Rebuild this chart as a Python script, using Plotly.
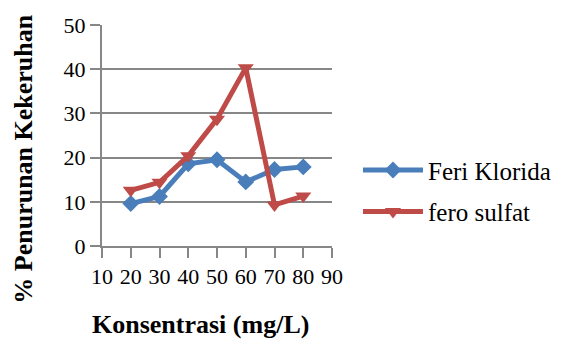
import plotly.graph_objects as go

konsentrasi = [20, 30, 40, 50, 60, 70, 80]
feri_klorida = [9.6, 11.2, 18.6, 19.5, 14.5, 17.3, 17.9]
fero_sulfat = [12.6, 14.4, 20.4, 28.7, 40.3, 9.3, 11.3]

x_ticks = [10, 20, 30, 40, 50, 60, 70, 80, 90]
y_ticks = [0, 10, 20, 30, 40, 50]

BLUE = "#4A7EBB"
RED = "#BE4B48"
GRID = "#878787"
FONT = "Liberation Serif"

fig = go.Figure()
fig.add_trace(go.Scatter(
    x=konsentrasi, y=feri_klorida, name="Feri Klorida", mode="lines+markers",
    line=dict(color=BLUE, width=5), legendgroup="a",
    marker=dict(symbol="diamond", size=13, color=BLUE),
))
fig.add_trace(go.Scatter(
    x=konsentrasi, y=fero_sulfat, name="fero sulfat", mode="lines+markers",
    line=dict(color=RED, width=5), legendgroup="b",
    marker=dict(symbol="triangle-down", size=14, color=RED),
))

fig.update_layout(
    width=576, height=340,
    margin=dict(l=102, r=244, t=25, b=94),
    paper_bgcolor="white", plot_bgcolor="white",
    font=dict(family=FONT, color="black", size=22),
    showlegend=True,
    legend=dict(
        x=1.113, y=0.25, xanchor="left", yanchor="middle",
        font=dict(family=FONT, size=25, color="black"),
        itemwidth=60, tracegroupgap=6, bgcolor="rgba(0,0,0,0)",
    ),
    xaxis=dict(
        range=[10, 90], tickvals=x_ticks, ticktext=[str(v) for v in x_ticks],
        showgrid=False, zeroline=False, showline=True, linecolor=GRID, linewidth=2,
        ticks="outside", ticklen=10, tickwidth=2, tickcolor=GRID,
        tickfont=dict(family=FONT, size=22, color="black"),
    ),
    yaxis=dict(
        range=[0, 50], tickvals=y_ticks, ticktext=[str(v) for v in y_ticks],
        showgrid=True, gridcolor=GRID, gridwidth=2, zeroline=False,
        showline=True, linecolor=GRID, linewidth=2,
        ticks="outside", ticklen=10, tickwidth=2, tickcolor=GRID,
        tickfont=dict(family=FONT, size=22, color="black"),
    ),
    annotations=[
        dict(text="<b>Konsentrasi (mg/L)</b>", xref="paper", yref="paper",
             x=0.43, y=-0.353, xanchor="center", yanchor="middle", showarrow=False,
             font=dict(family=FONT, size=26, color="black")),
        dict(text="<b>% Penurunan Kekeruhan</b>", xref="paper", yref="paper",
             x=-0.343, y=0.391, xanchor="center", yanchor="middle", showarrow=False,
             textangle=-90, font=dict(family=FONT, size=26, color="black")),
    ],
)

fig.write_html("out.html")
